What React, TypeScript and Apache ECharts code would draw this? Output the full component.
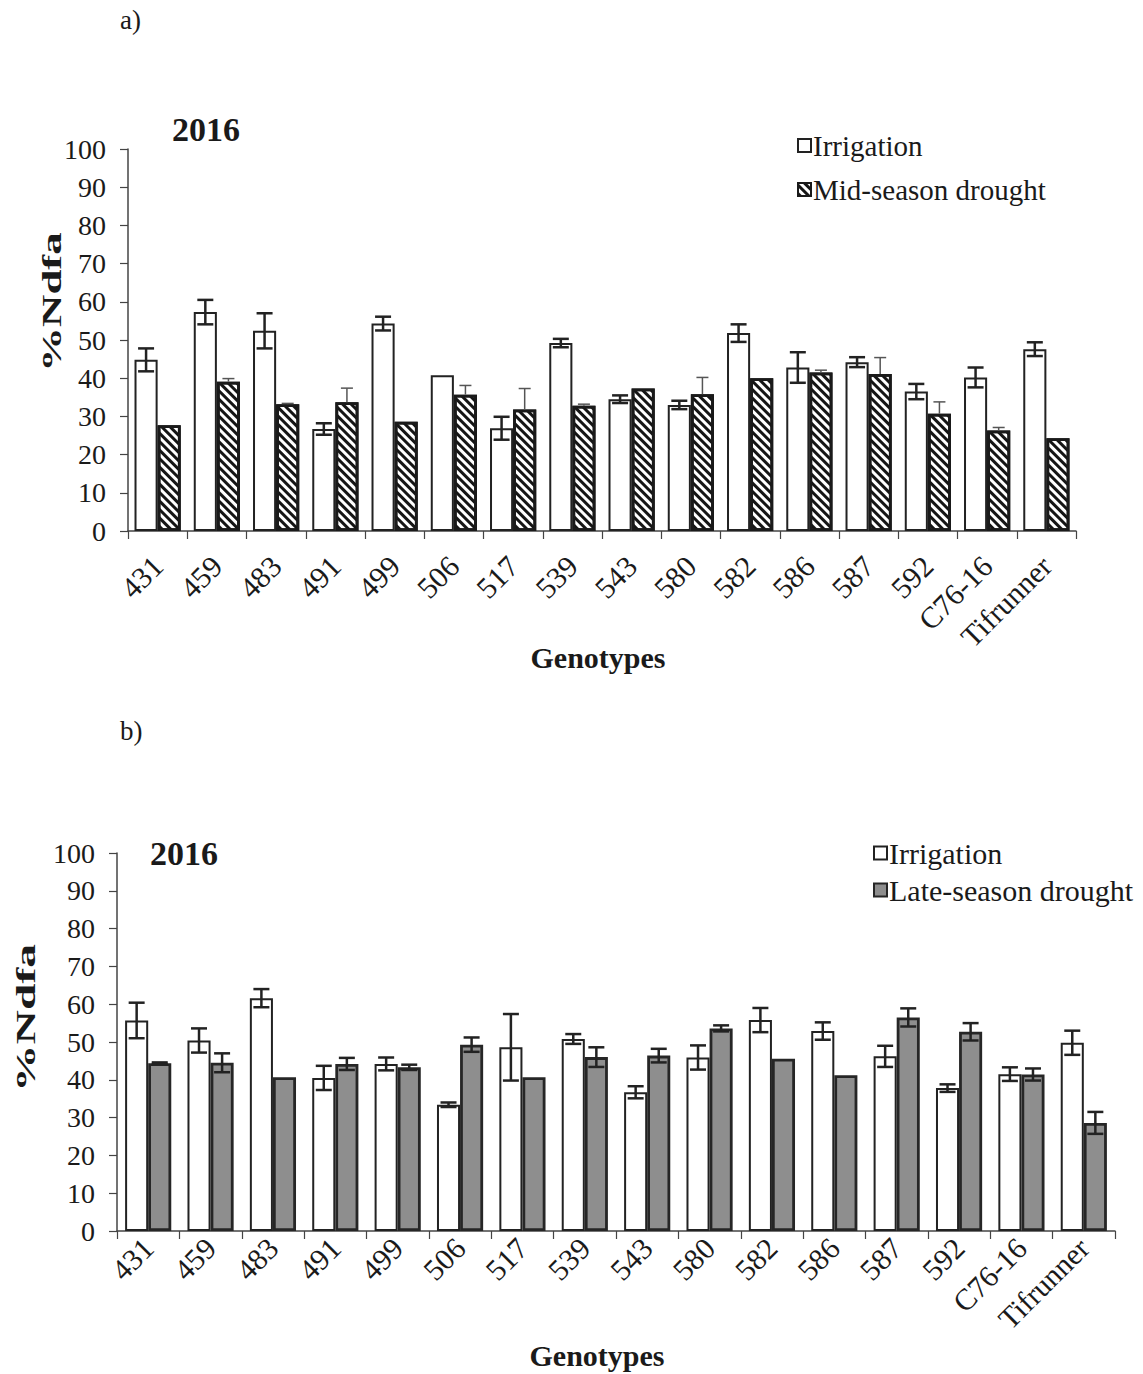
import React, { useEffect, useRef } from "react";
import * as echarts from "echarts";

const categories = ["431", "459", "483", "491", "499", "506", "517", "539", "543", "580", "582", "586", "587", "592", "C76-16", "Tifrunner"];
const yTicks = [0, 10, 20, 30, 40, 50, 60, 70, 80, 90, 100];

// Panel a) 2016 – Irrigation vs Mid-season drought
const irrigationA = [44.8, 57.3, 52.4, 26.7, 54.3, 40.8, 26.9, 49.2, 34.5, 33.0, 51.8, 42.8, 44.2, 36.5, 40.2, 47.6];
const irrigationAErr = [3.0, 3.2, 4.6, 1.5, 1.8, 0, 3.0, 1.1, 1.0, 1.1, 2.3, 4.0, 1.3, 2.0, 2.6, 1.8];
const midDroughtA = [27.7, 39.1, 33.2, 33.7, 28.6, 35.7, 31.8, 32.8, 37.3, 35.8, 40.0, 41.5, 41.1, 30.7, 26.3, 24.3];
const midDroughtAErr = [0, 0.8, 0.2, 3.7, 0, 2.4, 5.5, 0.4, 0, 4.4, 0, 0.6, 4.3, 3.1, 0.8, 0];

// Panel b) 2016 – Irrigation vs Late-season drought
const irrigationB = [55.7, 50.4, 61.6, 40.5, 44.2, 33.4, 48.6, 50.8, 36.7, 45.9, 55.8, 52.9, 46.2, 37.8, 41.5, 49.8];
const irrigationBErr = [4.7, 3.2, 2.4, 3.2, 1.7, 0.6, 8.8, 1.3, 1.6, 3.2, 3.2, 2.3, 2.8, 1.0, 1.8, 3.2];
const lateDroughtB = [44.4, 44.5, 40.7, 44.2, 43.3, 49.3, 40.7, 46.0, 46.4, 53.6, 45.6, 41.2, 56.5, 52.7, 41.4, 28.6];
const lateDroughtBErr = [0.2, 2.5, 0, 1.6, 0.7, 1.9, 0, 2.6, 1.8, 0.8, 0, 0, 2.4, 2.3, 1.6, 2.9];

const FONT = "Liberation Serif";
const TXT = "#1a1a1a";

function errData(vals: number[], errs: number[]) {
  return vals.map((v, i) => [i, v, errs[i]]);
}

function errorSeries(
  name: string,
  vals: number[],
  errs: number[],
  axis: number,
  gapFrac: number,
  side: number,
  opts: { upOnly: boolean; width: number; color: string; cap: number }
) {
  return {
    type: "custom",
    name: name + "-err",
    xAxisIndex: axis,
    yAxisIndex: axis,
    z: 5,
    silent: true,
    encode: { x: 0, y: 1 },
    data: errData(vals, errs),
    renderItem: (params: any, api: any) => {
      const idx = api.value(0);
      const v = api.value(1);
      const e = api.value(2);
      if (!e) return { type: "group", children: [] };
      const cw = api.size([1, 0])[0];
      const bw = (cw * (1 - gapFrac)) / 2;
      const top = api.coord([idx, v + e]);
      const bot = api.coord([idx, opts.upOnly ? v : v - e]);
      const x = top[0] + side * (bw / 2);
      const h = opts.cap / 2;
      const st = { stroke: opts.color, lineWidth: opts.width };
      const children: any[] = [
        { type: "line", shape: { x1: x, y1: top[1], x2: x, y2: bot[1] }, style: st },
        { type: "line", shape: { x1: x - h, y1: top[1], x2: x + h, y2: top[1] }, style: st },
      ];
      if (!opts.upOnly) {
        children.push({ type: "line", shape: { x1: x - h, y1: bot[1], x2: x + h, y2: bot[1] }, style: st });
      }
      return { type: "group", children };
    },
  };
}

function axisPair(gridIdx: number, labelMargin: number) {
  const x = {
    type: "category",
    gridIndex: gridIdx,
    data: categories,
    axisLine: { lineStyle: { color: "#444", width: 1.5 } },
    axisTick: { show: true, interval: 0, length: 8, lineStyle: { color: "#444", width: 1.2 } },
    axisLabel: { interval: 0, rotate: 45, margin: labelMargin, fontFamily: FONT, fontSize: 30, color: TXT },
    splitLine: { show: false },
  };
  const y = {
    type: "value",
    gridIndex: gridIdx,
    min: 0,
    max: 100,
    interval: 10,
    axisLine: { show: true, lineStyle: { color: "#444", width: 1.5 } },
    axisTick: { show: true, length: 8, lineStyle: { color: "#444", width: 1.2 } },
    axisLabel: {
      margin: 22,
      fontFamily: FONT,
      fontSize: 28,
      color: TXT,
      formatter: (v: number) => (yTicks.indexOf(v) >= 0 ? String(v) : ""),
    },
    splitLine: { show: false },
  };
  return { x, y };
}

export default function App() {
  const ref = useRef<HTMLDivElement>(null);
  useEffect(() => {
    if (!ref.current) return;
    const chart = echarts.init(ref.current, undefined, { renderer: "svg" });
    const a = axisPair(0, 30);
    const b = axisPair(1, 12);
    const gapA = 0.22;
    const gapB = 0.26;
    const hatch = {
      symbol: "rect",
      symbolSize: 1,
      color: "#151515",
      dashArrayX: [1, 0],
      dashArrayY: [2.8, 2.4],
      rotation: Math.PI / 4,
    };
    const option: any = {
      animation: false,
      backgroundColor: "#ffffff",
      textStyle: { fontFamily: FONT },
      grid: [
        { left: 128, right: 67, top: 149, height: 382 },
        { left: 117, right: 28, top: 853, height: 378 },
      ],
      xAxis: [a.x, b.x],
      yAxis: [a.y, b.y],
      legend: [
        {
          left: 792,
          top: 126,
          orient: "vertical",
          itemWidth: 13,
          itemHeight: 13,
          itemGap: 15,
          icon: "rect",
          textStyle: { fontFamily: FONT, fontSize: 29, color: TXT, padding: [0, 0, 0, -3] },
          data: ["Irrigation", "Mid-season drought"],
        },
        {
          left: 868,
          top: 833,
          orient: "vertical",
          itemWidth: 13,
          itemHeight: 13,
          itemGap: 7,
          icon: "rect",
          textStyle: { fontFamily: FONT, fontSize: 30, color: TXT, padding: [0, 0, 0, -3] },
          data: ["Irrigation", "Late-season drought"],
        },
      ],
      graphic: [
        { type: "text", left: 120, top: 6, style: { text: "a)", font: `27px '${FONT}'`, fill: TXT } },
        { type: "text", left: 120, top: 717, style: { text: "b)", font: `27px '${FONT}'`, fill: TXT } },
        { type: "text", left: 172, top: 112, style: { text: "2016", font: `bold 34px '${FONT}'`, fill: TXT } },
        { type: "text", left: 150, top: 836, style: { text: "2016", font: `bold 34px '${FONT}'`, fill: TXT } },
        {
          type: "text",
          x: 52,
          y: 302,
          rotation: Math.PI / 2,
          scaleX: 1.6,
          style: { text: "%Ndfa", font: `bold 28px '${FONT}'`, fill: TXT, align: "center", verticalAlign: "middle" },
        },
        {
          type: "text",
          x: 25,
          y: 1018,
          rotation: Math.PI / 2,
          scaleX: 1.7,
          style: { text: "%Ndfa", font: `bold 28px '${FONT}'`, fill: TXT, align: "center", verticalAlign: "middle" },
        },
        {
          type: "text",
          x: 598,
          y: 657,
          style: { text: "Genotypes", font: `bold 30px '${FONT}'`, fill: TXT, align: "center", verticalAlign: "middle" },
        },
        {
          type: "text",
          x: 597,
          y: 1355,
          style: { text: "Genotypes", font: `bold 30px '${FONT}'`, fill: TXT, align: "center", verticalAlign: "middle" },
        },
      ],
      series: [
        {
          type: "bar",
          name: "Irrigation",
          xAxisIndex: 0,
          yAxisIndex: 0,
          data: irrigationA,
          barGap: "0%",
          barCategoryGap: gapA * 100 + "%",
          itemStyle: { color: "#ffffff", borderColor: "#222", borderWidth: 2 },
        },
        {
          type: "bar",
          name: "Mid-season drought",
          xAxisIndex: 0,
          yAxisIndex: 0,
          data: midDroughtA,
          barGap: "0%",
          barCategoryGap: gapA * 100 + "%",
          itemStyle: { color: "#ffffff", borderColor: "#1a1a1a", borderWidth: 2.8, decal: hatch },
        },
        errorSeries("irrA", irrigationA, irrigationAErr, 0, gapA, -1, { upOnly: false, width: 2.5, color: "#222", cap: 16 }),
        errorSeries("midA", midDroughtA, midDroughtAErr, 0, gapA, 1, { upOnly: true, width: 1.5, color: "#555", cap: 12 }),
        {
          type: "bar",
          name: "Irrigation",
          xAxisIndex: 1,
          yAxisIndex: 1,
          data: irrigationB,
          barGap: "0%",
          barCategoryGap: gapB * 100 + "%",
          itemStyle: { color: "#ffffff", borderColor: "#222", borderWidth: 2 },
        },
        {
          type: "bar",
          name: "Late-season drought",
          xAxisIndex: 1,
          yAxisIndex: 1,
          data: lateDroughtB,
          barGap: "0%",
          barCategoryGap: gapB * 100 + "%",
          itemStyle: { color: "#8e8e8e", borderColor: "#262626", borderWidth: 2.8 },
        },
        errorSeries("irrB", irrigationB, irrigationBErr, 1, gapB, -1, { upOnly: false, width: 2.5, color: "#222", cap: 16 }),
        errorSeries("lateB", lateDroughtB, lateDroughtBErr, 1, gapB, 1, { upOnly: false, width: 2.5, color: "#222", cap: 16 }),
      ],
    };
    chart.setOption(option);
    return () => chart.dispose();
  }, []);
  return (
    <div
      ref={ref}
      style={{ position: "absolute", left: 0, top: 0, width: 1143, height: 1374, background: "#fff" }}
    />
  );
}
